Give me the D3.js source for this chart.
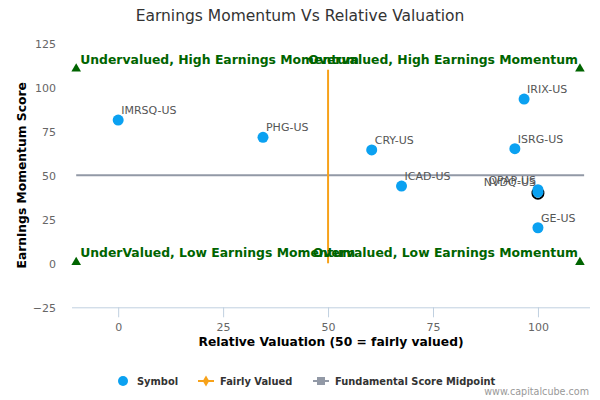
<!DOCTYPE html>
<html>
<head>
<meta charset="utf-8">
<script src="https://cdn.jsdelivr.net/npm/d3@7"></script>
<style>
  body { margin: 0; background: #fff; }
  svg { font-family: "DejaVu Sans", Verdana, sans-serif; }
</style>
</head>
<body>
<div id="chart" style="width:600px;height:400px"></div>
<script>
// chart data
const symbols = ["IMRSQ-US", "PHG-US", "CRY-US", "ISRG-US", "IRIX-US", "ICAD-US", "OPAP-US", "NVDQ-US", "GE-US"];
const valuation = [0, 34.5, 60.4, 94.5, 96.7, 67.5, 100, 100, 100];
const momentum = [81.4, 71.6, 64.4, 65.1, 93.3, 43.9, 41.8, 40.4, 20.2];
const highlighted = ["NVDQ-US"];

const xTicks = [0, 25, 50, 75, 100];
const yTicks = [-25, 0, 25, 50, 75, 100, 125];

// quadrant markers
const quadrantX = [-10, 110, -10, 110];
const quadrantY = [110, 110, 0, 0];
const quadrantText = [
    "Undervalued, High Earnings Momentum",
    "Overvalued, High Earnings Momentum",
    "UnderValued, Low Earnings Momentum",
    "Overvalued, Low Earnings Momentum"
];

const fairValue = 50;        // vertical line
const midpoint = 50;         // horizontal line

const legendNames = ["Symbol", "Fairly Valued", "Fundamental Score Midpoint"];

const blue = "#0ba1f1", orange = "#f7a21a", grey = "#9299a6", green = "#006400";

const width = 600, height = 400;

const svg = d3.select("#chart").append("svg")
    .attr("width", width)
    .attr("height", height);

const x = d3.scaleLinear().domain([-11, 112.4]).range([72, 590]);
const y = d3.scaleLinear().domain([-25, 125]).range([307.3, 43.3]);

// title
svg.append("text")
    .attr("x", 300).attr("y", 21)
    .attr("text-anchor", "middle")
    .style("font-size", "15.5px")
    .style("fill", "#333")
    .text("Earnings Momentum Vs Relative Valuation");

// x axis
const xAxis = svg.append("g")
    .attr("transform", "translate(0," + y(-25) + ")")
    .call(d3.axisBottom(x).tickValues(xTicks).tickSize(10).tickPadding(6));
xAxis.select(".domain").attr("stroke", "#c0d0e0").attr("d", "M" + x.range()[0] + ",0.5H" + x.range()[1]);
xAxis.selectAll(".tick line").attr("stroke", "#c0d0e0");
xAxis.selectAll(".tick text")
    .style("font-size", "11px")
    .style("fill", "#666")
    .style("font-family", "DejaVu Sans, sans-serif");

// y axis (labels only)
const yAxis = svg.append("g")
    .attr("transform", "translate(62,0)")
    .call(d3.axisLeft(y).tickValues(yTicks).tickSize(0).tickPadding(6));
yAxis.select(".domain").remove();
yAxis.selectAll(".tick text")
    .attr("dy", "0.35em")
    .style("font-size", "11px")
    .style("fill", "#666")
    .style("font-family", "DejaVu Sans, sans-serif");

// axis titles
svg.append("text")
    .attr("x", 331).attr("y", 346)
    .attr("text-anchor", "middle")
    .style("font-size", "12.3px").style("font-weight", "bold").style("fill", "#000")
    .text("Relative Valuation (50 = fairly valued)");

svg.append("text")
    .attr("transform", "translate(26," + y(50) + ") rotate(-90)")
    .attr("text-anchor", "middle")
    .style("font-size", "12.3px").style("font-weight", "bold").style("fill", "#000")
    .text("Earnings Momentum Score");

// midpoint line
svg.append("line")
    .attr("x1", x(-10)).attr("x2", x(111))
    .attr("y1", y(midpoint)).attr("y2", y(midpoint))
    .attr("stroke", grey).attr("stroke-width", 2);

// fairly valued line
svg.append("line")
    .attr("x1", x(fairValue)).attr("x2", x(fairValue))
    .attr("y1", y(110)).attr("y2", y(0))
    .attr("stroke", orange).attr("stroke-width", 2);

// quadrant markers and labels
const tri = d3.symbol().type(d3.symbolTriangle).size(40);
quadrantText.forEach(function(t, i) {
    const qx = x(quadrantX[i]), qy = y(quadrantY[i]);
    svg.append("path")
        .attr("d", tri)
        .attr("transform", "translate(" + qx + "," + (qy - 1) + ")")
        .attr("fill", green);
    svg.append("text")
        .attr("x", i % 2 === 0 ? qx + 4 : qx - 2)
        .attr("y", qy - 6)
        .attr("text-anchor", i % 2 === 0 ? "start" : "end")
        .style("font-size", "12.4px").style("font-weight", "bold")
        .style("fill", green)
        .text(t);
});

// points
const pts = symbols.map((s, i) => ({ name: s, vx: valuation[i], vy: momentum[i] }));

svg.selectAll(".ring")
    .data(pts.filter(d => highlighted.includes(d.name)))
    .enter().append("circle")
    .attr("cx", d => x(d.vx)).attr("cy", d => y(d.vy) + 1)
    .attr("r", 5.5)
    .attr("fill", "none").attr("stroke", "#000").attr("stroke-width", 2);

svg.selectAll(".pt")
    .data(pts)
    .enter().append("circle")
    .attr("cx", d => x(d.vx)).attr("cy", d => y(d.vy))
    .attr("r", 5.5)
    .attr("fill", blue);

// data labels, pushed left when they'd run off the right edge
svg.selectAll(".lbl")
    .data(pts)
    .enter().append("text")
    .attr("x", d => d.vx >= 99.5 && d.vy > 30 ? x(d.vx) - 2 : x(d.vx) + 3)
    .attr("y", d => y(d.vy) - 6)
    .attr("text-anchor", d => d.vx >= 99.5 && d.vy > 30 ? "end" : "start")
    .style("font-size", "11px")
    .style("fill", "#555")
    .text(d => d.name);

// legend
const lg = svg.append("g").attr("transform", "translate(0,381)");
lg.append("circle").attr("cx", 123).attr("cy", 0).attr("r", 5).attr("fill", blue);
lg.append("line").attr("x1", 198).attr("x2", 214).attr("y1", 0).attr("y2", 0)
    .attr("stroke", orange).attr("stroke-width", 2);
lg.append("path").attr("d", d3.symbol().type(d3.symbolDiamond).size(36))
    .attr("transform", "translate(206,0)").attr("fill", orange);
lg.append("line").attr("x1", 313).attr("x2", 329).attr("y1", 0).attr("y2", 0)
    .attr("stroke", grey).attr("stroke-width", 2);
lg.append("rect").attr("x", 317).attr("y", -4).attr("width", 8).attr("height", 8).attr("fill", grey);

const legendX = [137, 220, 335];
legendNames.forEach(function(n, i) {
    lg.append("text")
        .attr("x", legendX[i]).attr("y", 4)
        .style("font-size", "9.9px").style("font-weight", "bold").style("fill", "#333")
        .text(n);
});

// credit
svg.append("text")
    .attr("x", 589).attr("y", 395)
    .attr("text-anchor", "end")
    .style("font-size", "9.6px").style("fill", "#999")
    .text("www.capitalcube.com");
</script>
</body>
</html>
